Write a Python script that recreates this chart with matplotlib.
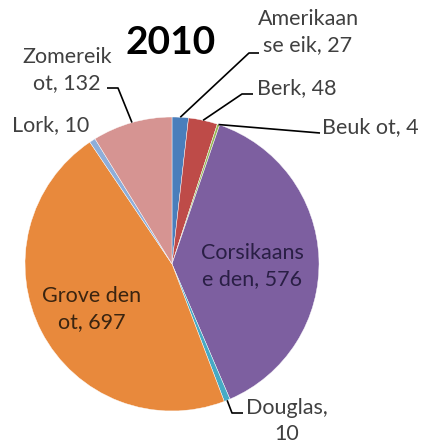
import numpy as np
import matplotlib.pyplot as plt

plt.rcParams['font.family'] = ['Lato', 'DejaVu Sans']

# soorten en aantallen (2010)
labels = ["Amerikaan\nse eik", "Berk", "Beuk ot", "Corsikaans\ne den",
          "Douglas,\n", "Grove den\not", "Lork", "Zomereik\not"]
values = [27, 48, 4, 576, 10, 697, 10, 132]
colors = ["#4A7EBB", "#BE4B48", "#98B954", "#7D5FA0",
          "#46AAC5", "#E8893C", "#8EAEDA", "#D69492"]

W, H = 421, 446
cx, cy, R = 172, 182, 147

fig = plt.figure(figsize=(W / 100, H / 100), dpi=100)
ax = fig.add_axes([0, 0, 1, 1])

wedges, _ = ax.pie(values, colors=colors, startangle=90, counterclock=False,
                   center=(cx, cy), radius=R, frame=True,
                   wedgeprops=dict(edgecolor="white", linewidth=0.3))
ax.set_xlim(0, W)
ax.set_ylim(0, H)
ax.axis("off")


def label_text(i):
    name = labels[i]
    if name.endswith("\n"):
        return name + str(values[i])
    return f"{name}, {values[i]}"


def edge_point(i):
    w = wedges[i]
    mid = np.deg2rad((w.theta1 + w.theta2) / 2)
    return cx + R * np.cos(mid), cy + R * np.sin(mid)


outside = "#404040"
fs = 15.5

ax.text(171, 404, "2010", ha="center", va="center", fontsize=28,
        fontweight="bold", color="black")

# label positions (x, y, ha, color)
pos = {
    0: (308, 414, "center", outside),
    1: (257, 358, "left", outside),
    2: (322, 319, "left", outside),
    3: (252, 180, "center", "#2a1f45"),
    4: (287, 25, "center", outside),
    5: (92, 137, "center", "#3a2410"),
    6: (12, 321, "left", outside),
    7: (67, 376, "center", outside),
}
for i, (x, y, ha, c) in pos.items():
    ax.text(x, y, label_text(i), ha=ha, va="center", fontsize=fs,
            color=c, linespacing=1.38)

# leader lines: wedge edge -> elbow -> label
leaders = {
    0: [(249, 393), (259, 393)],
    1: [(242, 352), (253, 352)],
    2: [(320, 313)],
    4: [(232, 33), (243, 33)],
    7: [(118, 358), (107, 358)],
}
for i, pts in leaders.items():
    x0, y0 = edge_point(i)
    xs = [x0] + [p[0] for p in pts]
    ys = [y0] + [p[1] for p in pts]
    ax.plot(xs, ys, color="black", linewidth=1.2, solid_capstyle="butt")

fig.savefig("out.png", dpi=100)
